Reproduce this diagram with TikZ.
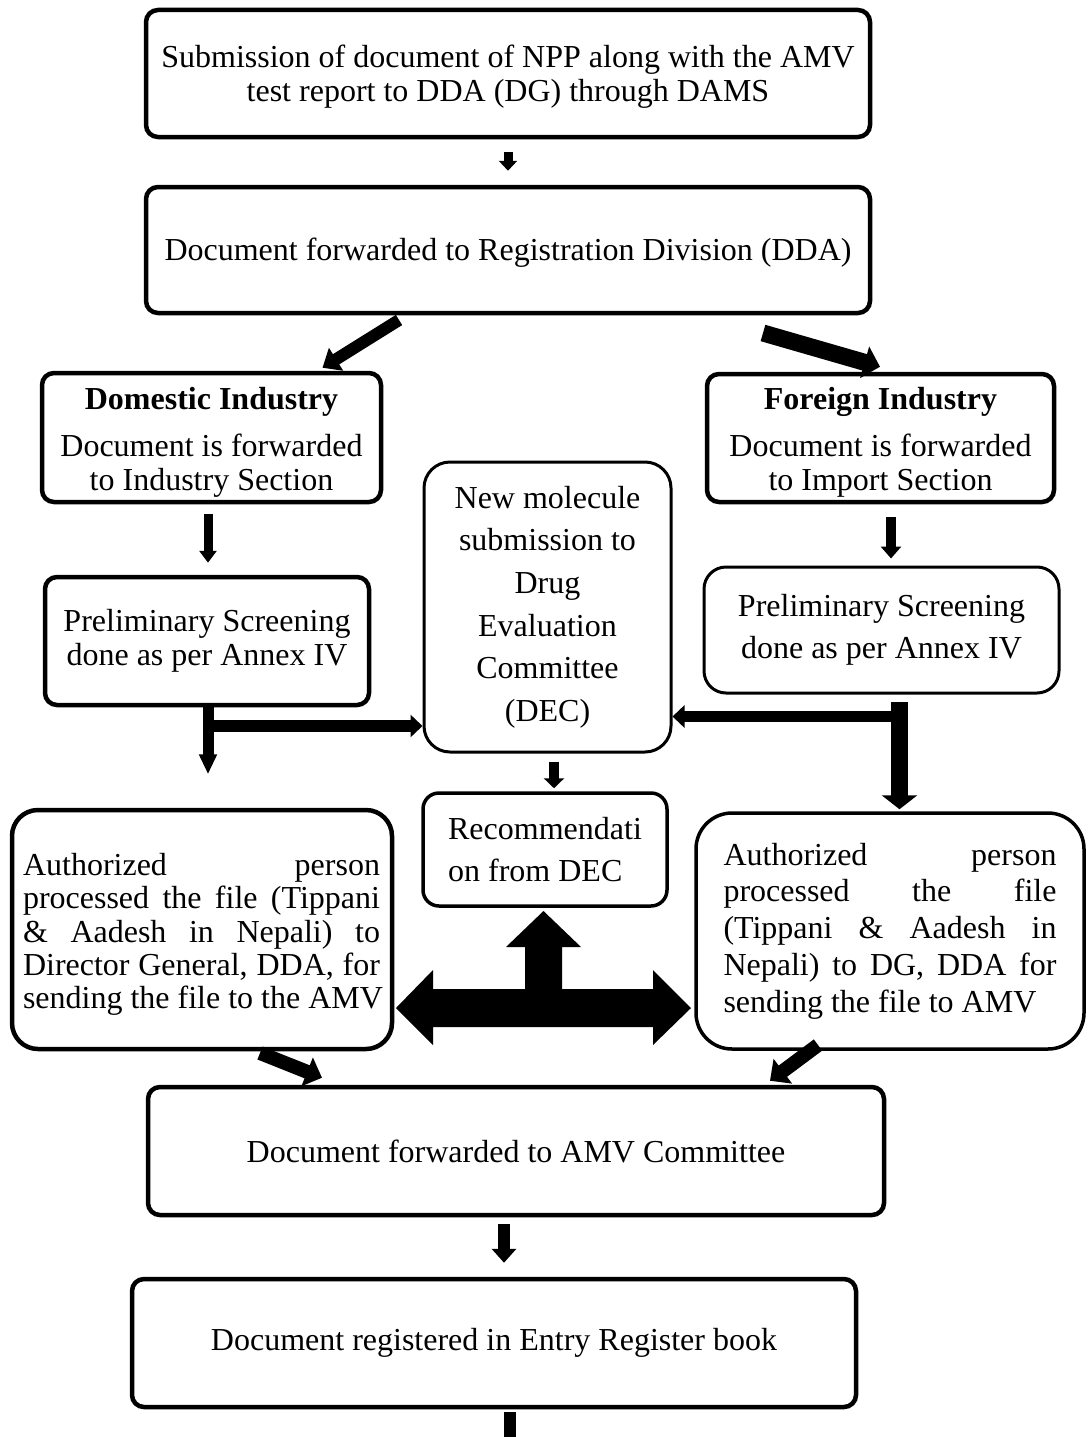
\documentclass[tikz,border=0pt]{standalone}
\usepackage{fontspec}
\setmainfont{Liberation Serif}
\usetikzlibrary{arrows.meta}
\newcommand\jline[2]{\makebox[#1][s]{#2}}
\tikzset{
  x=1pt, y=-1pt,
  txt/.style={font=\fontsize{32}{34}\selectfont},
  box/.style={draw, line width=4.5pt, rounded corners=12pt, inner sep=0pt, align=center, txt},
  softbox/.style={draw, line width=3pt, rounded corners=#1, inner sep=0pt, align=center, txt},
  plain/.style={inner sep=0pt, align=center, txt},
  barrow/.style n args={3}{line width=#1, -{Triangle[width=#2, length=#3]}},
}
\begin{document}
\begin{tikzpicture}
\useasboundingbox (0,0) rectangle (1087,1437);

% boxes
\node[box, minimum width=724pt, minimum height=127pt] (b1) at (508,73.5) {};
\node[plain] (b1t) at (508,76.5)
  {Submission of document of NPP along with the AMV\\ test report to DDA (DG) through DAMS};
\node[box, minimum width=724pt, minimum height=126pt] (b2) at (508,250) {};
\node[plain] (b2t) at (508,253) {Document forwarded to Registration Division (DDA)};
\node[box, minimum width=339pt, minimum height=129pt] (dom) at (211.5,437.5) {};
\node[plain] (domt) at (211.5,442)
  {\textbf{Domestic Industry}\\[13pt] Document is forwarded\\ to Industry Section};
\node[box, minimum width=347pt, minimum height=128pt] (for) at (880.5,438) {};
\node[plain] (fort) at (880.5,442)
  {\textbf{Foreign Industry}\\[13pt] Document is forwarded\\ to Import Section};
\node[softbox=26pt, minimum width=247pt, minimum height=290pt,
      font=\fontsize{32}{42.6}\selectfont] (dec) at (547.5,607)
  {New molecule\\ submission to\\ Drug\\ Evaluation\\ Committee\\ (DEC)};
\node[box, minimum width=324pt, minimum height=128pt] (pl) at (207,641)
  {Preliminary Screening\\ done as per Annex IV};
\node[softbox=22pt, minimum width=355pt, minimum height=126pt,
      font=\fontsize{32}{42}\selectfont] (pr) at (881.5,630)
  {Preliminary Screening\\ done as per Annex IV};
\node[softbox=16pt, line width=3.5pt, minimum width=244pt, minimum height=113pt, align=left,
      font=\fontsize{32}{42}\selectfont] (rec) at (545,849.5)
  {Recommendati\\ on from DEC};
\node[box, rounded corners=26pt, minimum width=380pt, minimum height=239pt] (la) at (202,929.5) {};
\node[plain, align=left, font=\fontsize{32}{33.3}\selectfont] (lat) at (203,934.5)
  {\jline{357pt}{Authorized person}\\
   \jline{357pt}{processed the file (Tippani}\\
   \jline{357pt}{\& Aadesh in Nepali) to}\\
   \jline{357pt}{Director General, DDA, for}\\
   sending the file to the AMV};
\node[softbox=36pt, line width=3.5pt, minimum width=388pt, minimum height=236pt, align=left,
      font=\fontsize{32}{36.8}\selectfont] (ra) at (890,931)
  {\jline{333pt}{Authorized person}\\
   \jline{333pt}{processed the file}\\
   \jline{333pt}{(Tippani \& Aadesh in}\\
   \jline{333pt}{Nepali) to DG, DDA for}\\
   sending the file to AMV\hspace{22pt}};
\node[box, minimum width=736pt, minimum height=128pt] (amv) at (516,1151)
  {Document forwarded to AMV Committee};
\node[box, minimum width=724pt, minimum height=128pt] (ent) at (494,1343)
  {Document registered in Entry Register book};

% connectors
\draw[barrow={9pt}{18pt}{10pt}] ([yshift=-13pt]b1.south) -- ([yshift=14pt]b2.north);
\coordinate (d1) at (399,320);
\draw[barrow={12pt}{26pt}{16pt}] (d1) -- ([xshift=111pt,yshift=3pt]dom.north);
\coordinate (d2) at (763,333);
\draw[barrow={17pt}{32pt}{16pt}] (d2) -- ([xshift=-0.5pt,yshift=5pt]for.north);
\draw[barrow={9pt}{17pt}{12pt}] ([xshift=-3.5pt,yshift=-10pt]dom.south) -- ([xshift=1pt,yshift=12pt]pl.north);
\draw[barrow={10pt}{20pt}{12pt}] ([xshift=10.5pt,yshift=-13pt]for.south) -- ([xshift=9.5pt,yshift=7pt]pr.north);

\coordinate (lj) at (208,726);
\draw[barrow={11pt}{17pt}{20pt}] ([xshift=1pt]pl.south) -- ([xshift=1pt,yshift=-67pt]pl.south);
\draw[barrow={12pt}{22pt}{12pt}] (lj) -- (lj -| dec.west);
\coordinate (rj) at (899.5,702);
\coordinate (rh) at (891,716.5);
\draw[barrow={17pt}{35pt}{14pt}] (rj) -- ([yshift=2pt]rj |- ra.north);
\draw[barrow={11pt}{22pt}{12pt}] (rh) -- (rh -| dec.east);
\draw[barrow={10pt}{20pt}{10pt}] ([xshift=6.5pt,yshift=-8pt]dec.south) -- ([xshift=9pt,yshift=3pt]rec.north);

% cross block arrow between the authorized-person boxes and the recommendation
\fill (396,1008) -- (433,970) -- (433,989) -- (525,989) -- (525,947) -- (506,947)
  -- (543.5,911) -- (581,947) -- (562,947) -- (562,989) -- (653,989) -- (653,970)
  -- (691,1008) -- (653,1045) -- (653,1027) -- (433,1027) -- (433,1045) -- cycle;

\coordinate (e1) at (260,1053);
\draw[barrow={14pt}{30pt}{16pt}] (e1) -- ([xshift=-194pt,yshift=7pt]amv.north);
\coordinate (e2) at (818,1045);
\draw[barrow={14pt}{30pt}{16pt}] (e2) -- ([xshift=254pt,yshift=4pt]amv.north);
\draw[barrow={12pt}{24pt}{14pt}] ([xshift=-12pt,yshift=-7pt]amv.south) -- ([xshift=10pt,yshift=14pt]ent.north);
\draw[barrow={12pt}{24pt}{14pt}] ([xshift=16pt,yshift=-3pt]ent.south) -- ([xshift=16pt,yshift=-45pt]ent.south);
\end{tikzpicture}
\end{document}
